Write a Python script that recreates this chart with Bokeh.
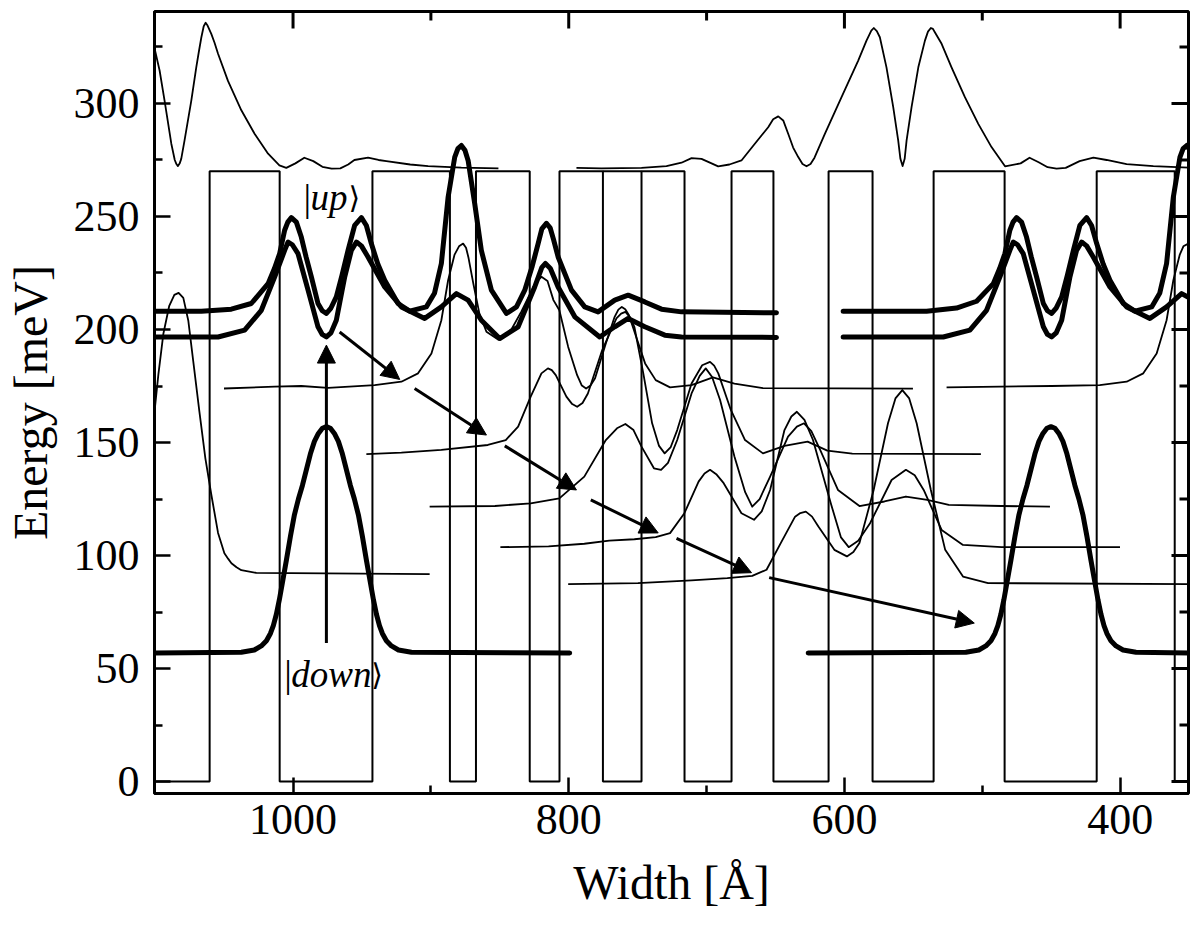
from bokeh.plotting import figure
from bokeh.models import Range1d, Arrow, NormalHead, FixedTicker, ColumnDataSource
from bokeh.embed import file_html
from bokeh.resources import INLINE
from bokeh.core.properties import value

# ---------------- data ----------------
# potential profile: layer edges (Angstrom) and band-edge level of each layer (meV)
pot_edges = [1101, 1060.5, 1009.7, 942.4, 886.2, 867.3, 828.3, 806.7, 775.2, 747.2, 716.0,
             681.9, 651.5, 611.5, 579.6, 535.3, 483.8, 417.0, 360.4, 349]
pot_levels = [0, 270, 0, 270, 0, 270, 0, 270, 0, 270, 0, 270, 0, 270, 0, 270, 0, 270, 0, 0]
pot_extra_x = [775.2, 747.2]
pot_extra_y = [270, 270]

# top thin curve (two pieces)
top1_x = [1100.4, 1096.8, 1093.2, 1088.3, 1085.8, 1084.6, 1083.5, 1082.3, 1081.1, 1078.7, 1073.8,
          1070.2, 1068.3, 1066.5, 1064.8, 1063.4, 1062.0, 1059.3, 1057.0, 1054.4, 1047.2, 1037.5, 1027.9,
          1018.1, 1009.9, 1004.9, 998.3, 991.8, 985.3, 978.7, 972.0, 965.7, 960.0, 955.5, 945.6, 938.0,
          932.3, 915.0, 902.0, 877.9, 851.0]
top1_y = [324.2, 314.6, 301.3, 282.2, 275.0, 273.2, 272.3, 273.4, 275.5, 283.7, 301.3,
          316, 323, 329.3, 334.2, 335.7, 334.5, 330.8, 327, 322, 310, 297, 286.6,
          277.8, 272.6, 271.5, 273.5, 276, 274.5, 272, 271.2, 271.3, 273, 275, 276, 275,
          274.5, 273, 272.3, 271.6, 271.3]
top2_x = [794.4, 776.3, 747.2, 729.1, 718.2, 710.9, 703.7, 696.4, 691.6, 683.4, 674.7, 665.0, 655.3,
          651.7, 648.0, 644.4, 640.8, 637.2, 633.5, 630.4, 627.5, 624.6, 621.7, 614.2, 602.1, 590.0,
          584.0, 580.5, 578.7, 576.5, 574.3, 569.5, 564.6, 561.0, 559.4, 557.8, 556.3, 554.9, 551.3,
          546.4, 541.6, 539.4, 537.3, 535.8, 534.4, 529.5, 522.3, 512.6, 502.9, 493.3, 483.5, 472.2,
          465.7, 459.1, 452.6, 446.1, 439.5, 429.4, 419.4, 409.8, 395.3, 375.9, 350.3]
top2_y = [271.5, 271.3, 271.5, 272.3, 273.8, 275.8, 275.5, 273.5, 272.2, 273, 274.8, 282.2, 289.5,
          293, 294.3, 292.5, 286.6, 280.5, 276.3, 273.2, 272.2, 273.2, 276, 286.6, 302.8, 319,
          327.8, 332.2, 333.4, 332, 329.3, 316, 298.4, 283.7, 275.5, 272.3, 275.5, 283.7, 298.4,
          316, 327.8, 331.8, 333.4, 333, 331.5, 326.4, 316, 302.8, 291, 280.7, 272.2, 273.5,
          276, 274, 271.8, 271.2, 271.5, 274.5, 276, 275, 273.2, 272.3, 271.6]

# |up> doublet, thick (left and right pieces)
uhi1_x = [1100.6, 1066.5, 1044.8, 1030.3, 1018.1, 1013.5, 1009.7, 1006.1, 1003.8, 1001.2, 997.6, 994.0,
          990.5, 986.7, 981.9, 978.8, 975.8, 972.5, 968.6, 964.5, 960.1, 955.3, 950.4, 946.8, 943.2,
          938.5, 933.5, 923.8, 915.4, 903.3, 897.4, 892.4, 887.5, 882.7, 880.4, 877.9, 875.3, 873.0,
          868.2, 863.4, 856.1, 845.2, 837.9, 831.9, 826.5, 822.2, 819.5, 816.2, 813.5, 811.1, 807.7,
          798.0, 788.4, 778.7, 766.6, 756.9, 744.8, 732.7, 718.2, 649.3]
uhi1_y = [208.1, 208.1, 209.0, 211.5, 220.3, 227, 233.6, 243.9, 247.5, 249.5, 247.5, 240.9,
          232, 223.3, 211.5, 208.3, 207.1, 209.5, 214.4, 224, 235, 246.1, 249.5, 246, 238,
          229, 221.8, 211.5, 208.1, 210, 216, 229.2, 258.6, 276.3, 280, 281.4, 279.3, 274.8,
          255.7, 235, 217.4, 207.1, 210, 217.4, 228, 238, 244.5, 247, 245, 240, 232.1,
          217.4, 210, 207.8, 213, 215.2, 212.2, 209, 207.8, 207.4]
uhi2_x = [600.9, 540.4, 518.7, 504.1, 492.0, 487.4, 483.6, 480.0, 477.7, 475.1, 471.5, 467.9, 464.4,
          460.6, 455.7, 452.7, 449.7, 446.4, 442.4, 438.3, 433.9, 429.2, 424.3, 420.7, 417.0, 412.3,
          407.4, 397.7, 389.3, 377.1, 371.3, 366.3, 361.4, 356.6, 354.3, 351.7, 349.2]
uhi2_y = [208.1, 208.1, 209.5, 212.5, 220.3, 227, 233.6, 243.9, 247.5, 249.5, 247.5, 240.9, 232,
          223.3, 211.5, 208.3, 207.1, 209.5, 214.4, 224, 235, 246.1, 249.5, 246, 238, 229,
          221.8, 211.5, 208.1, 210, 216, 229.2, 258.6, 276.3, 280, 281.4, 279.3]
ulo1_x = [1100.6, 1054.4, 1035.1, 1023.0, 1013.3, 1006.1, 1003.6, 1000.5, 996.4, 989.1, 981.9, 978.8,
          975.8, 972.5, 968.6, 962.5, 957.7, 954.0, 950.4, 945.6, 933.5, 921.4, 904.5, 892.4, 881.5,
          873.0, 863.4, 850.1, 836.7, 824.7, 819.5, 816.9, 813.3, 807.7, 795.6, 777.5, 766.6, 756.9,
          744.8, 730.3, 718.2, 649.3]
ulo1_y = [196.7, 196.7, 199.7, 208.5, 223.3, 235, 238.7, 237.5, 233.6, 217.4, 201.2, 197.8,
          196.7, 198.5, 204.1, 223.3, 235, 238.7, 237, 232.1, 218.8, 210, 204.9, 210, 215.9,
          213, 204.1, 196, 201.2, 218.8, 227.5, 229.2, 227, 218.8, 205.6, 196.7, 201.2, 204.9,
          201.2, 197.5, 196.7, 196.5]
ulo2_x = [600.9, 528.3, 509.0, 496.9, 487.2, 480.0, 477.5, 474.4, 470.3, 463.0, 455.7, 452.7, 449.7,
          446.4, 442.4, 436.4, 431.6, 427.9, 424.3, 419.5, 407.4, 395.3, 378.4, 366.3, 355.4, 346.9]
ulo2_y = [196.7, 196.7, 199.7, 208.5, 223.3, 235, 238.7, 237.5, 233.6, 217.4, 201.2, 197.8, 196.7,
          198.5, 204.1, 223.3, 235, 238.7, 237, 232.1, 218.8, 210, 204.9, 210, 215.9, 213]

# |down> state, thick (left and right pieces)
dn1_x = [1100.6, 1037.5, 1028.1, 1023.0, 1019.3, 1016.4, 1014.3, 1012.1, 1009.9, 1007.7, 1004.8,
         1001.9, 999.0, 996.1, 993.2, 990.3, 987.4, 984.5, 981.6, 978.7, 975.8, 972.9, 970.0, 967.1,
         964.2, 961.3, 958.4, 955.5, 952.6, 949.7, 946.8, 943.9, 941.7, 939.5, 937.3, 935.2, 932.3,
         928.6, 923.5, 914.1, 799.3]
dn1_y = [56.9, 57.2, 58.2, 60, 62.3, 65.5, 69, 74, 80.5, 88, 98,
         108.5, 118, 125, 131, 138, 145, 150.5, 154, 156.3, 157, 156.3, 154, 150.5,
         145, 138, 131, 125, 118, 108.5, 98, 88, 80.5, 74, 69, 65.5, 62.3,
         60, 58.2, 57.2, 56.9]
dn2_x = [626.3, 511.9, 502.5, 497.4, 493.7, 490.8, 488.7, 486.5, 484.3, 482.1, 479.2, 476.3, 473.4,
         470.5, 467.6, 464.7, 461.8, 458.9, 456.0, 453.1, 450.2, 447.3, 444.4, 441.5, 438.6, 435.7,
         432.8, 429.9, 427.0, 424.1, 421.2, 418.3, 416.1, 413.9, 411.7, 409.6, 406.7, 403.0, 397.9,
         388.5, 348.1]
dn2_y = [56.9, 57.2, 58.2, 60, 62.3, 65.5, 69, 74, 80.5, 88, 98, 108.5, 118,
         125, 131, 138, 145, 150.5, 154, 156.3, 157, 156.3, 154, 150.5, 145, 138,
         131, 125, 118, 108.5, 98, 88, 80.5, 74, 69, 65.5, 62.3, 60, 58.2,
         57.2, 56.9]

# cascade states, thin
w1_x = [1100.6, 1097.7, 1094.1, 1089.8, 1086.1, 1083.0, 1079.6, 1076.0, 1072.4, 1068.0, 1063.6, 1059.3,
        1054.4, 1049.8, 1047.0, 1044.7, 1041.0, 1037.5, 1026.6, 900.9]
w1_y = [163, 180, 198, 210.5, 215.3, 216.2, 214, 204, 186, 164, 143, 127,
        110, 101, 98.5, 96.6, 94.8, 93.5, 92.3, 91.8]
w2_x = [1050.1, 1013.3, 994.0, 974.6, 940.8, 921.4, 909.3, 899.6, 892.4, 887.5, 882.9, 879.6, 876.6,
        874.5, 872.8, 869.1, 864.8, 859.7, 851.0, 841.6, 834.3, 827.1, 823.5, 819.8, 815.4, 811.1,
        806.8, 800.4, 793.9, 790.5, 787.4, 784.2, 780.9, 773.1, 766.7, 764.0, 761.5, 759.0, 756.3,
        751.1, 744.6, 736.9, 726.5, 710.9, 695.4, 679.8, 659.1, 550.3]
w2_y = [173.9, 174.7, 175, 174.2, 175.4, 176.9, 180.6, 189.4, 204.1, 221.8, 233, 236.8, 238,
        236.2, 232, 220, 207, 199, 195.5, 200, 208, 217, 221, 223.3, 221.5, 213,
        208.5, 192.3, 179.8, 175.2, 173.9, 175.2, 178.4, 193.8, 205.6, 208.8, 210.0, 209, 206.3,
        196.8, 185.0, 177.6, 174.4, 175.4, 178.8, 176.1, 174.1, 173.8]
w2r_x = [525.9, 449.7, 414.8, 395.3, 383.2, 373.5, 366.3, 361.4, 356.8, 354.1, 350.5, 346.6]
w2r_y = [174.4, 175, 175.4, 176.9, 180.6, 189.4, 204.1, 221.8, 233, 236.8, 238, 235]
w3_x = [946.8, 921.4, 892.4, 858.7, 845.7, 836.7, 827.6, 819.8, 815.1, 812.3, 809.4, 801.7, 797.5,
        793.9, 790.0, 786.1, 775.7, 765.4, 762.0, 758.9, 755.6, 752.4, 745.9, 739.5, 734.5, 730.4,
        726.0, 721.3, 710.9, 703.2, 697.5, 694.5, 691.5, 682.4, 672.1, 659.1, 643.5, 626.7, 612.4,
        594.3, 501.0]
w3_y = [144.9, 145.5, 146.7, 148.9, 151.1, 157.0, 170.3, 180.6, 182.8, 182, 179.8, 170.3, 167,
        165.8, 167.5, 171.7, 190.9, 204.9, 207, 207.8, 205.5, 201.2, 180.6, 158.5, 148.5, 145.2,
        148, 155.5, 176.1, 184.2, 185.7, 184, 180.6, 164.4, 151.1, 145.2, 148.5, 150.4, 146.4,
        145.1, 144.9]
w4_x = [900.9, 853.5, 827.6, 806.8, 788.7, 773.1, 765.0, 758.9, 753.0, 747.2, 738.2, 733.0, 728.0,
        721.3, 710.9, 705.0, 700.6, 696.0, 690.2, 679.8, 672.0, 666.9, 661.5, 653.9, 640.9, 634.5,
        629.3, 624.0, 617.6, 604.7, 589.1, 571.0, 555.4, 539.9, 524.3, 486.0, 450.9]
w4_y = [121.6, 121.9, 123.1, 125.3, 134.9, 151.1, 156.3, 158.2, 155.5, 148.2, 138.6, 137.9, 141,
        151.1, 171.7, 179.5, 182.8, 179, 168.8, 143.8, 128, 121.6, 125, 134.9, 152.6, 157,
        158.5, 155, 146.7, 129.0, 121.9, 123.9, 126.1, 124.6, 122.4, 121.9, 121.6]
w5_x = [849.6, 814.6, 788.7, 770.6, 752.4, 736.9, 726.5, 716.1, 705.8, 701.5, 697.5, 693.0, 687.6,
        674.7, 665.6, 660.0, 653.9, 643.5, 638.5, 634.5, 629.0, 622.8, 609.9, 602.5, 596.9, 590.0,
        581.4, 565.8, 555.4, 549.0, 542.5, 529.5, 514.0, 486.0, 400.1]
w5_y = [103.7, 104.0, 105.2, 106.6, 107.2, 108.1, 109.9, 118.7, 132.7, 136.3, 137.9, 136, 132.0,
        118.7, 115.8, 119.5, 129.0, 155.5, 161.5, 163.6, 160, 151.1, 123.1, 108, 103.7, 106.5,
        114.3, 133.4, 137.9, 135.5, 129.0, 111.3, 104.7, 103.7, 103.7]
w6_x = [800.4, 749.8, 710.9, 685.0, 666.9, 656.5, 646.2, 635.8, 632.0, 628.0, 623.5, 618.9, 607.3,
        598.2, 593.5, 589.1, 578.8, 568.4, 563.0, 558.0, 553.0, 547.6, 537.3, 526.9, 514.0, 495.8, 350.3]
w6_y = [87.3, 87.8, 89.0, 90.0, 91.0, 93.7, 105.5, 117.2, 118.8, 119.4, 117.2, 112.8, 102.5,
        99.6, 101.5, 105.5, 129.0, 158.5, 169.5, 173.2, 169.5, 158.5, 129.0, 102.5, 90.7, 87.8, 87.3]

# arrows: (x_start, y_start, x_end, y_end)
arr_x0 = [975.8, 966.2, 911.8, 846.4, 784.0, 721.8, 654.6]
arr_y0 = [61.3, 198.9, 173.9, 148.5, 124.6, 107.6, 90.2]
arr_x1 = [975.8, 922.6, 859.7, 794.4, 735.1, 667.4, 505.8]
arr_y1 = [193.1, 177.9, 153.3, 129.0, 110.0, 92.4, 70.1]

# state labels
lab_x = [992.5, 1006.3]
lab_y = [258.4, 47.5]
lab_txt = ["up", "down"]

# axis ticks
x_major = [400, 600, 800, 1000]
x_minor = [500, 700, 900]
y_major = [0, 50, 100, 150, 200, 250, 300]
y_minor = [25, 75, 125, 175, 225, 275, 325]
X_LO, X_HI = 1100.5, 350.4
Y_LO, Y_HI = -5.3, 340.7

# ---------------- figure ----------------
FONT = "Liberation Serif"
FW, FH = 1034, 782
p = figure(frame_width=FW, frame_height=FH, x_range=Range1d(X_LO, X_HI), y_range=Range1d(Y_LO, Y_HI),
           output_backend="svg", toolbar_location=None,
           min_border_left=150, min_border_right=4, min_border_top=11, min_border_bottom=134)
p.grid.visible = False
p.outline_line_color = "black"
p.outline_line_width = 3
p.background_fill_color = "white"
p.border_fill_color = "white"

for ax in (p.xaxis[0], p.yaxis[0]):
    ax.axis_line_width = 3
    ax.axis_line_color = "black"
    ax.major_tick_in = 16
    ax.major_tick_out = 0
    ax.minor_tick_in = 8
    ax.minor_tick_out = 0
    ax.major_tick_line_width = 2.5
    ax.minor_tick_line_width = 2.5
    ax.major_tick_line_color = "black"
    ax.minor_tick_line_color = "black"
    ax.major_label_text_font = FONT
    ax.major_label_text_font_size = "44px"
    ax.major_label_text_color = "black"
    ax.axis_label_text_font = FONT
    ax.axis_label_text_font_size = "48px"
    ax.axis_label_text_font_style = "normal"
    ax.axis_label_text_color = "black"

p.xaxis.ticker = FixedTicker(ticks=x_major, minor_ticks=x_minor)
p.yaxis.ticker = FixedTicker(ticks=y_major, minor_ticks=y_minor)
p.xaxis.axis_label = "Width [Å]"
p.yaxis.axis_label = "Energy [meV]"
p.xaxis.major_label_standoff = 11
p.xaxis.axis_label_standoff = 19
p.yaxis.major_label_standoff = 15
p.yaxis.axis_label_standoff = 14

# mirrored (unlabelled) ticks on the top and right edges: 17 px major, 9 px minor, pointing inward
dx_px = abs(X_HI - X_LO) / FW   # Angstrom per pixel
dy_px = abs(Y_HI - Y_LO) / FH   # meV per pixel
for ticks, n in ((x_major, 17), (x_minor, 9)):
    p.segment(x0=ticks, y0=[Y_HI] * len(ticks), x1=ticks, y1=[Y_HI - n * dy_px] * len(ticks),
              line_color="black", line_width=3)
for ticks, n in ((y_major, 17), (y_minor, 9)):
    p.segment(x0=[X_HI] * len(ticks), y0=ticks, x1=[X_HI + n * dx_px] * len(ticks), y1=ticks,
              line_color="black", line_width=3)

# potential
p.step(pot_edges, pot_levels, mode="after", line_color="black", line_width=2)
p.line(pot_extra_x, pot_extra_y, line_color="black", line_width=2)

thin = dict(line_color="black", line_width=1.8, line_join="round")
thick = dict(line_color="black", line_width=5, line_join="round", line_cap="round")

p.line(top1_x, top1_y, **thin)
p.line(top2_x, top2_y, **thin)
for xs, ys in [(w1_x, w1_y), (w2_x, w2_y), (w2r_x, w2r_y), (w3_x, w3_y), (w4_x, w4_y),
               (w5_x, w5_y), (w6_x, w6_y)]:
    p.line(xs, ys, **thin)
for xs, ys in [(uhi1_x, uhi1_y), (uhi2_x, uhi2_y), (ulo1_x, ulo1_y), (ulo2_x, ulo2_y),
               (dn1_x, dn1_y), (dn2_x, dn2_y)]:
    p.line(xs, ys, **thick)

for x0, y0, x1, y1 in zip(arr_x0, arr_y0, arr_x1, arr_y1):
    p.add_layout(Arrow(end=NormalHead(size=18, fill_color="black", line_color="black", line_width=1),
                       x_start=x0, y_start=y0, x_end=x1, y_end=y1,
                       line_color="black", line_width=3))

src = ColumnDataSource(dict(x=lab_x, y=lab_y, t=lab_txt,
                            bar=["|", "|"], ang=["\u27e9", "\u27e9"], off=[45, 87]))
p.text(x="x", y="y", text="bar", source=src, text_font=value(FONT), text_font_size="38px",
       text_baseline="alphabetic", text_align="left", text_color="black")
p.text(x="x", y="y", text="t", source=src, text_font=value(FONT), text_font_size="37px",
       text_font_style="italic", text_baseline="alphabetic", text_align="left", text_color="black",
       x_offset=7)
p.text(x="x", y="y", text="ang", source=src, text_font=value("DejaVu Serif"), text_font_size="30px",
       text_baseline="alphabetic", text_align="left", text_color="black",
       x_offset="off")

open("out.html", "w").write(file_html(p, INLINE))
